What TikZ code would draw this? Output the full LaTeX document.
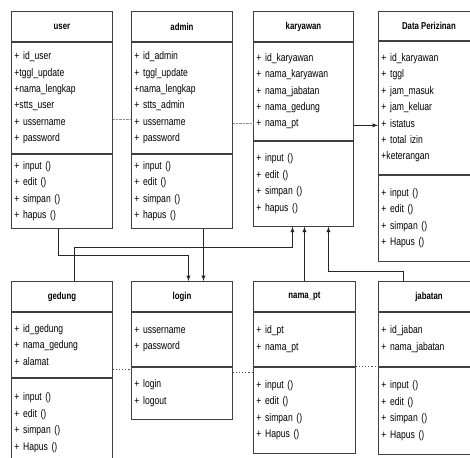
\documentclass[tikz,border=0pt]{standalone}
\usepackage{fontspec}
\setmainfont{Liberation Sans}[FakeStretch=0.78]
\usetikzlibrary{positioning}

\begin{document}
\begin{tikzpicture}[
        x=1pt, y=-1pt, % координаты в пикселях
        head/.style = {draw=black!75, line width=0.9pt, anchor=north west, minimum width=101pt, minimum height=30pt,
                       inner sep=0pt, font=\fontsize{10}{12}\selectfont\bfseries}, % заголовок класса
        part/.style = {draw=black!75, line width=0.9pt, text width=95pt, inner xsep=3pt, inner ysep=0pt, align=left,
                       font=\fontsize{11}{16.4}\selectfont}, % атрибуты и методы
        link/.style = {draw=black!85, line width=0.9pt, -latex},
        dots/.style = {draw=black!45, densely dotted},
        ldots/.style = {draw=black!70, line width=1.1pt, dotted},
    ]
    \useasboundingbox (0,0) rectangle (470,457);

    % верхний ряд
    \node[head] (user) at (11,11) {user};
    \node[part, minimum height=111pt, below=0pt of user] (user-a) {+ id\_user\\+tggl\_update\\+nama\_lengkap\\+stts\_user\\+ ussername\\+ password};
    \node[part, minimum height=74pt, below=0pt of user-a] (user-m) {+ input ()\\+ edit ()\\+ simpan ()\\+ hapus ()};

    \node[head] (admin) at (131,11) {admin};
    \node[part, minimum height=111pt, below=0pt of admin] (admin-a) {+ id\_admin\\+ tggl\_update\\+nama\_lengkap\\+ stts\_admin\\+ ussername\\+ password};
    \node[part, minimum height=74pt, below=0pt of admin-a] (admin-m) {+ input ()\\+ edit ()\\+ simpan ()\\+ hapus ()};

    \node[head, minimum width=100pt] (karyawan) at (253,11) {karyawan};
    \node[part, text width=94pt, minimum height=98pt, below=0pt of karyawan] (karyawan-a) {+ id\_karyawan\\+ nama\_karyawan\\+ nama\_jabatan\\+ nama\_gedung\\+ nama\_pt};
    \node[part, text width=94pt, minimum height=85pt, below=0pt of karyawan-a] (karyawan-m) {+ input ()\\+ edit ()\\+ simpan ()\\+ hapus ()};

    \node[head, minimum height=29pt] (izin) at (378,11) {Data Perizinan};
    \node[part, minimum height=133pt, below=0pt of izin] (izin-a) {+ id\_karyawan\\+ tggl\\+ jam\_masuk\\+ jam\_keluar\\+ istatus\\+ total izin\\+keterangan};
    \node[part, minimum height=86pt, below=0pt of izin-a] (izin-m) {+ input ()\\+ edit ()\\+ simpan ()\\+ Hapus ()};

    % нижний ряд
    \node[head] (gedung) at (11,281) {gedung};
    \node[part, minimum height=65pt, below=0pt of gedung] (gedung-a) {+ id\_gedung\\+ nama\_gedung\\+ alamat};
    \node[part, minimum height=89pt, below=0pt of gedung-a] (gedung-m) {+ input ()\\+ edit ()\\+ simpan ()\\+ Hapus ()};

    \node[head] (login) at (131,281) {login};
    \node[part, minimum height=54pt, below=0pt of login] (login-a) {+ ussername\\+ password};
    \node[part, minimum height=52pt, below=0pt of login-a] (login-m) {+ login\\+ logout};

    \node[head, minimum width=102pt] (nama_pt) at (253,281) {nama\_pt};
    \node[part, text width=96pt, minimum height=54pt, below=0pt of nama_pt] (nama_pt-a) {+ id\_pt\\+ nama\_pt};
    \node[part, text width=96pt, minimum height=86pt, below=0pt of nama_pt-a] (nama_pt-m) {+ input ()\\+ edit ()\\+ simpan ()\\+ Hapus ()};

    \node[head] (jabatan) at (378,281) {jabatan};
    \node[part, minimum height=54pt, below=0pt of jabatan] (jabatan-a) {+ id\_jaban\\+ nama\_jabatan};
    \node[part, minimum height=87pt, below=0pt of jabatan-a] (jabatan-m) {+ input ()\\+ edit ()\\+ simpan ()\\+ Hapus ()};

    % связи
    \draw[link] ([xshift=-3.5pt]user-m.south) -- ++(0,27) -| ([xshift=6.5pt]login.north);
    \draw[link] ([xshift=21.5pt]admin-m.south) -- ([xshift=21.5pt]login.north);
    \draw[link] ([xshift=12.5pt]gedung.north) -- ++(0,-34) -| ([xshift=-11pt]karyawan-m.south);
    \draw[link] (nama_pt.north) -- (nama_pt.north |- karyawan-m.south);
    \draw[link] ([xshift=-25.5pt]jabatan.north) -- ++(0,-10) -| ([xshift=25pt]karyawan-m.south);
    \draw[link] ([yshift=-34pt]karyawan-a.east) -- ([yshift=-34pt]karyawan-a.east -| izin-a.west);

    % пунктир
    \draw[dots] ([yshift=-21.5pt]user-a.east) -- ([yshift=-21.5pt]user-a.east -| admin-a.west);
    \draw[dots] ([yshift=-25pt]admin-a.east) -- ([yshift=-25pt]admin-a.east -| karyawan-a.west);
    \draw[ldots] ([yshift=-24.5pt]gedung-a.east) -- ([yshift=-24.5pt]gedung-a.east -| login-a.west);
    \draw[ldots] ([yshift=21pt]login-m.east) -- ([yshift=21pt]login-m.east -| nama_pt-m.west);
    \draw[ldots] (nama_pt-a.south east) -- (jabatan-a.south west);
\end{tikzpicture}
\end{document}
